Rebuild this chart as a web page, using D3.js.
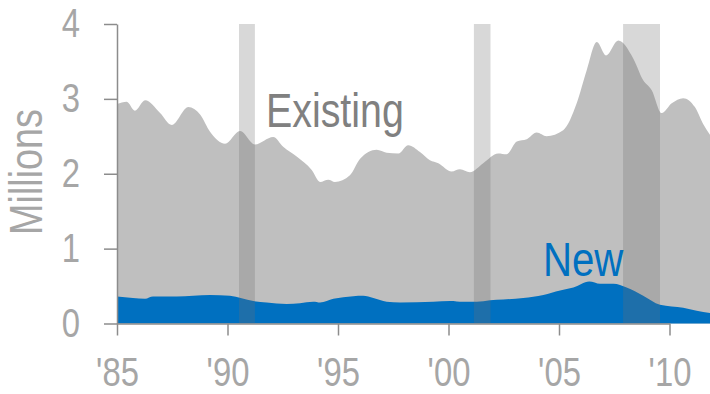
<!DOCTYPE html>
<html>
<head>
<meta charset="utf-8">
<script src="https://cdn.jsdelivr.net/npm/d3@7"></script>
<style>
  body { margin: 0; background: #fff; }
  svg { display: block; }
  text { font-family: "Liberation Sans Narrow", "Arial Narrow", "Liberation Sans", Arial, sans-serif; }
</style>
</head>
<body>
<div id="chart"></div>
<script>
// home sales, millions
const existingYears = [1985.00, 1985.44, 1985.81, 1986.27, 1986.95, 1987.48, 1988.23, 1988.76, 1989.21, 1989.89,
  1990.57, 1991.24, 1992.07, 1992.52, 1993.13, 1993.81, 1994.19, 1994.56, 1994.86, 1995.54,
  1996.00, 1996.75, 1997.20, 1997.73, 1998.18, 1998.71, 1999.16, 1999.54, 2000.14, 2000.52,
  2000.97, 2001.57, 2002.25, 2002.63, 2003.09, 2003.54, 2003.99, 2004.44, 2005.19, 2005.80,
  2006.25, 2006.71, 2007.13, 2007.68, 2008.36, 2008.81, 2009.19, 2009.65, 2010.10, 2010.62,
  2011.15, 2011.53, 2011.83, 2012.00];
const existingSales = [2.93, 2.96, 2.84, 2.98, 2.81, 2.65, 2.89, 2.79, 2.56, 2.40,
  2.57, 2.39, 2.49, 2.36, 2.23, 2.05, 1.89, 1.92, 1.89, 1.98,
  2.20, 2.32, 2.28, 2.27, 2.38, 2.29, 2.18, 2.14, 2.03, 2.06,
  2.02, 2.14, 2.27, 2.26, 2.43, 2.46, 2.55, 2.50, 2.58, 2.94,
  3.38, 3.76, 3.58, 3.78, 3.54, 3.25, 3.12, 2.81, 2.94, 3.01,
  2.89, 2.66, 2.52, 2.44];

const newYears = [1985.00, 1985.72, 1986.27, 1986.63, 1987.70, 1988.45, 1989.21, 1990.11, 1991.17, 1991.77,
  1992.68, 1993.28, 1993.88, 1994.19, 1994.79, 1995.24, 1996.14, 1996.60, 1997.20, 1997.81,
  1999.31, 2000.07, 2000.67, 2001.28, 2001.88, 2002.48, 2003.38, 2004.29, 2005.05, 2005.65,
  2006.37, 2006.86, 2007.46, 2008.06, 2008.81, 2009.57, 2010.62, 2011.23, 2011.83, 2012.00];
const newSales = [0.36, 0.34, 0.33, 0.36, 0.36, 0.37, 0.38, 0.37, 0.30, 0.28,
  0.26, 0.27, 0.29, 0.28, 0.33, 0.35, 0.37, 0.34, 0.29, 0.28,
  0.29, 0.30, 0.29, 0.29, 0.31, 0.32, 0.34, 0.38, 0.44, 0.48,
  0.56, 0.53, 0.53, 0.48, 0.37, 0.25, 0.21, 0.17, 0.14, 0.13];

// recessions (start, end)
const recessions = [[1990.52, 1991.24], [2001.15, 2001.90], [2007.90, 2009.57]];

const yTicks = [0, 1, 2, 3, 4];
const xTicks = [1985, 1990, 1995, 2000, 2005, 2010];
const xTickLabels = ["'85", "'90", "'95", "'00", "'05", "'10"];

const width = 710;
const height = 394;

const svg = d3.select("#chart")
    .append("svg")
    .attr("width", width)
    .attr("height", height);

const x = d3.scaleLinear().domain([1985, 2010]).range([117, 669.5]);
const y = d3.scaleLinear().domain([0, 4]).range([323.5, 24]);

const existing = existingYears.map((d, i) => ({year: d, value: existingSales[i]}));
const newHomes = newYears.map((d, i) => ({year: d, value: newSales[i]}));

// no narrow font installed, so squeeze the text instead
const narrow = sel => sel.each(function() {
    const w = this.getComputedTextLength();
    d3.select(this)
        .attr("textLength", w * 0.82)
        .attr("lengthAdjust", "spacingAndGlyphs");
});

const area = d3.area()
    .x(d => x(d.year))
    .y0(y(0))
    .y1(d => y(d.value))
    .curve(d3.curveMonotoneX);

svg.append("path")
    .datum(existing)
    .attr("d", area)
    .attr("fill", "#bfbfbf");

svg.append("path")
    .datum(newHomes)
    .attr("d", area)
    .attr("fill", "#0070c0");

// recession bars sit over the areas, see-through
svg.selectAll(".rec")
    .data(recessions)
    .join("rect")
    .attr("class", "rec")
    .attr("x", d => x(d[0]))
    .attr("width", d => x(d[1]) - x(d[0]))
    .attr("y", y(4))
    .attr("height", y(0) - y(4))
    .attr("fill", "#6f6f6f")
    .attr("fill-opacity", 0.27);

// axes
const yAxis = svg.append("g")
    .attr("transform", `translate(${x(1985)},0)`)
    .call(d3.axisLeft(y).tickValues(yTicks).tickFormat(d3.format("d"))
        .tickSize(13).tickSizeOuter(0).tickPadding(24));
yAxis.select(".domain").attr("stroke", "#8c8c8c").attr("stroke-width", 1.5);
yAxis.selectAll(".tick line").attr("stroke", "#8c8c8c").attr("stroke-width", 1.5);
yAxis.selectAll(".tick text")
    .attr("fill", "#a6a6a6")
    .attr("font-size", 40)
    .attr("font-family", null)
    .call(narrow);

const xAxis = svg.append("g")
    .attr("transform", `translate(0,${y(0)})`)
    .call(d3.axisBottom(x).tickValues(xTicks).tickFormat((d, i) => xTickLabels[i])
        .tickSize(12).tickSizeOuter(0).tickPadding(22));
xAxis.select(".domain").attr("stroke", "#8c8c8c").attr("stroke-width", 1.5);
xAxis.selectAll(".tick line").attr("stroke", "#8c8c8c").attr("stroke-width", 1.5);
xAxis.selectAll(".tick text")
    .attr("fill", "#a6a6a6")
    .attr("font-size", 40)
    .attr("font-family", null)
    .call(narrow);

svg.append("text")
    .text("Millions")
    .attr("transform", "translate(42,172) rotate(-90)")
    .attr("text-anchor", "middle")
    .attr("fill", "#a6a6a6")
    .attr("font-size", 46)
    .call(narrow);

svg.append("text")
    .text("Existing")
    .attr("x", 266)
    .attr("y", 127)
    .attr("fill", "#808080")
    .attr("font-size", 48)
    .call(narrow);

svg.append("text")
    .text("New")
    .attr("x", 543)
    .attr("y", 276)
    .attr("fill", "#0070c0")
    .attr("font-size", 49)
    .call(narrow);
</script>
</body>
</html>
